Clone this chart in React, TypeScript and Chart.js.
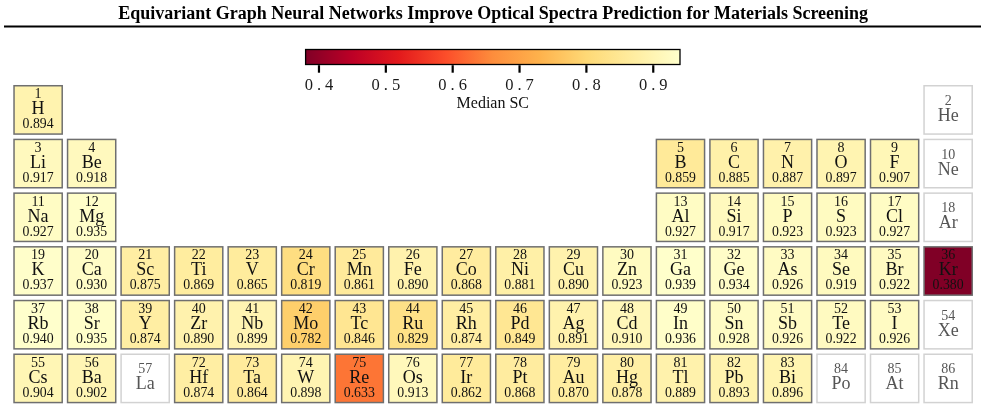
import { useEffect, useRef } from 'react';
import { Chart, registerables } from 'chart.js';

Chart.register(...registerables);

const TITLE =
  'Equivariant Graph Neural Networks Improve Optical Spectra Prediction for Materials Screening';
const COLORBAR_LABEL = 'Median SC';

// Elements shown in the table (main-group + transition metals up to Rn)
const symbols = [
  'H', 'He',
  'Li', 'Be', 'B', 'C', 'N', 'O', 'F', 'Ne',
  'Na', 'Mg', 'Al', 'Si', 'P', 'S', 'Cl', 'Ar',
  'K', 'Ca', 'Sc', 'Ti', 'V', 'Cr', 'Mn', 'Fe', 'Co', 'Ni', 'Cu', 'Zn', 'Ga', 'Ge', 'As', 'Se', 'Br', 'Kr',
  'Rb', 'Sr', 'Y', 'Zr', 'Nb', 'Mo', 'Tc', 'Ru', 'Rh', 'Pd', 'Ag', 'Cd', 'In', 'Sn', 'Sb', 'Te', 'I', 'Xe',
  'Cs', 'Ba', 'La', 'Hf', 'Ta', 'W', 'Re', 'Os', 'Ir', 'Pt', 'Au', 'Hg', 'Tl', 'Pb', 'Bi', 'Po', 'At', 'Rn',
];

const atomicNumbers = [
  1, 2,
  3, 4, 5, 6, 7, 8, 9, 10,
  11, 12, 13, 14, 15, 16, 17, 18,
  19, 20, 21, 22, 23, 24, 25, 26, 27, 28, 29, 30, 31, 32, 33, 34, 35, 36,
  37, 38, 39, 40, 41, 42, 43, 44, 45, 46, 47, 48, 49, 50, 51, 52, 53, 54,
  55, 56, 57, 72, 73, 74, 75, 76, 77, 78, 79, 80, 81, 82, 83, 84, 85, 86,
];

const groups = [
  1, 18,
  1, 2, 13, 14, 15, 16, 17, 18,
  1, 2, 13, 14, 15, 16, 17, 18,
  1, 2, 3, 4, 5, 6, 7, 8, 9, 10, 11, 12, 13, 14, 15, 16, 17, 18,
  1, 2, 3, 4, 5, 6, 7, 8, 9, 10, 11, 12, 13, 14, 15, 16, 17, 18,
  1, 2, 3, 4, 5, 6, 7, 8, 9, 10, 11, 12, 13, 14, 15, 16, 17, 18,
];

const periods = [
  1, 1,
  2, 2, 2, 2, 2, 2, 2, 2,
  3, 3, 3, 3, 3, 3, 3, 3,
  4, 4, 4, 4, 4, 4, 4, 4, 4, 4, 4, 4, 4, 4, 4, 4, 4, 4,
  5, 5, 5, 5, 5, 5, 5, 5, 5, 5, 5, 5, 5, 5, 5, 5, 5, 5,
  6, 6, 6, 6, 6, 6, 6, 6, 6, 6, 6, 6, 6, 6, 6, 6, 6, 6,
];

// Median spectral similarity per element (null = no data)
const medianSC: (number | null)[] = [
  0.894, null,
  0.917, 0.918, 0.859, 0.885, 0.887, 0.897, 0.907, null,
  0.927, 0.935, 0.927, 0.917, 0.923, 0.923, 0.927, null,
  0.937, 0.930, 0.875, 0.869, 0.865, 0.819, 0.861, 0.890, 0.868, 0.881, 0.890, 0.923, 0.939, 0.934, 0.926, 0.919, 0.922, 0.380,
  0.940, 0.935, 0.874, 0.890, 0.899, 0.782, 0.846, 0.829, 0.874, 0.849, 0.891, 0.910, 0.936, 0.928, 0.926, 0.922, 0.926, null,
  0.904, 0.902, null, 0.874, 0.864, 0.898, 0.633, 0.913, 0.862, 0.868, 0.870, 0.878, 0.889, 0.893, 0.896, null, null, null,
];

const colorbarTicks = [0.4, 0.5, 0.6, 0.7, 0.8, 0.9];
const colorMin = 0.38;
const colorMax = 0.94;

// ColorBrewer YlOrRd, light -> dark
const YLORRD = ['#ffffcc', '#ffeda0', '#fed976', '#feb24c', '#fd8d3c', '#fc4e2a', '#e31a1c', '#bd0026', '#800026'];

const SERIF = "'Liberation Serif', 'Times New Roman', serif";

function hexToRgb(h: string): number[] {
  return [1, 3, 5].map((k) => parseInt(h.slice(k, k + 2), 16));
}

// Reversed YlOrRd: low values dark red, high values pale yellow
function colorFor(v: number): string {
  let t = (v - colorMin) / (colorMax - colorMin);
  t = Math.max(0, Math.min(1, t));
  const s = (1 - t) * (YLORRD.length - 1);
  const i = Math.min(YLORRD.length - 2, Math.floor(s));
  const f = s - i;
  const a = hexToRgb(YLORRD[i]);
  const b = hexToRgb(YLORRD[i + 1]);
  const c = a.map((av, k) => Math.round(av + (b[k] - av) * f));
  return `rgb(${c[0]},${c[1]},${c[2]})`;
}

const cellPlugin = {
  id: 'periodicCells',
  afterDatasetsDraw(chart: any) {
    const { ctx } = chart;
    const x = chart.scales.x;
    const y = chart.scales.y;
    const half = 0.45;
    ctx.save();
    ctx.textAlign = 'center';
    ctx.textBaseline = 'middle';
    symbols.forEach((sym, i) => {
      const g = groups[i];
      const p = periods[i];
      const left = x.getPixelForValue(g - half);
      const right = x.getPixelForValue(g + half);
      const top = y.getPixelForValue(p - half);
      const bottom = y.getPixelForValue(p + half);
      const w = right - left;
      const h = bottom - top;
      const cx = x.getPixelForValue(g);
      const cy = y.getPixelForValue(p);
      const v = medianSC[i];
      const hasData = v !== null && v !== undefined;

      ctx.fillStyle = hasData ? colorFor(v as number) : '#ffffff';
      ctx.fillRect(left, top, w, h);
      ctx.lineWidth = 1.5;
      ctx.strokeStyle = hasData ? '#6f6f6f' : '#d2d2d2';
      ctx.strokeRect(left, top, w, h);

      if (hasData) {
        ctx.fillStyle = '#111111';
        ctx.font = `14px ${SERIF}`;
        ctx.fillText(String(atomicNumbers[i]), cx, cy - 0.32 * h);
        ctx.font = `18px ${SERIF}`;
        ctx.fillText(sym, cx, cy - 0.01 * h);
        ctx.font = `13.8px ${SERIF}`;
        ctx.fillText((v as number).toFixed(3), cx, cy + 0.305 * h);
      } else {
        ctx.fillStyle = '#555555';
        ctx.font = `14px ${SERIF}`;
        ctx.fillText(String(atomicNumbers[i]), cx, cy - 0.18 * h);
        ctx.font = `18px ${SERIF}`;
        ctx.fillText(sym, cx, cy + 0.13 * h);
      }
    });
    ctx.restore();
  },
};

// Heavy rule beneath the title
const titleRulePlugin = {
  id: 'titleRule',
  afterDraw(chart: any) {
    const { ctx } = chart;
    const tb = chart.titleBlock;
    const top = tb ? tb.top : 0;
    ctx.save();
    ctx.fillStyle = '#000000';
    ctx.fillRect(4, top + 25.5, chart.width - 8, 2);
    ctx.restore();
  },
};

const colorbarPlugin = {
  id: 'colorbar',
  afterDraw(chart: any) {
    const { ctx, chartArea } = chart;
    const x = chart.scales.x;
    const x0 = x.getPixelForValue(colorMin);
    const x1 = x.getPixelForValue(colorMax);
    const top = chartArea.top;
    const bottom = chartArea.bottom;
    ctx.save();
    const grad = ctx.createLinearGradient(x0, 0, x1, 0);
    const n = YLORRD.length;
    for (let k = 0; k < n; k++) grad.addColorStop(k / (n - 1), YLORRD[n - 1 - k]);
    ctx.fillStyle = grad;
    ctx.fillRect(x0, top, x1 - x0, bottom - top);
    ctx.lineWidth = 1.3;
    ctx.strokeStyle = '#000000';
    ctx.strokeRect(x0, top, x1 - x0, bottom - top);

    // tick marks and labels
    ctx.fillStyle = '#000000';
    colorbarTicks.forEach((t) => {
      const px = x.getPixelForValue(t);
      ctx.fillRect(px - 1.1, bottom + 0.7, 2.2, 7.5);
    });
    ctx.fillStyle = '#1a1a1a';
    ctx.font = `16.5px ${SERIF}`;
    ctx.textAlign = 'center';
    ctx.textBaseline = 'alphabetic';
    (ctx as any).letterSpacing = '4px';
    colorbarTicks.forEach((t) => {
      const px = x.getPixelForValue(t);
      ctx.fillText(t.toFixed(1), px + 2, bottom + 25.5);
    });
    (ctx as any).letterSpacing = '0px';
    ctx.font = `16px ${SERIF}`;
    ctx.fillStyle = '#111111';
    ctx.fillText(COLORBAR_LABEL, (x0 + x1) / 2, bottom + 43.5);
    ctx.restore();
  },
};

export default function App() {
  const mainRef = useRef<HTMLCanvasElement | null>(null);
  const barRef = useRef<HTMLCanvasElement | null>(null);

  useEffect(() => {
    if (!mainRef.current || !barRef.current) return;

    const table = new Chart(mainRef.current, {
      type: 'scatter',
      data: {
        datasets: [
          {
            data: symbols.map((_, i) => ({ x: groups[i], y: periods[i] })),
            pointRadius: 0,
            pointHoverRadius: 0,
          },
        ],
      },
      options: {
        responsive: false,
        animation: false,
        events: [],
        layout: { padding: { left: 11.35, right: 10.1, top: 0, bottom: 3.75 } },
        scales: {
          x: { type: 'linear', min: 0.5, max: 18.5, display: false },
          y: { type: 'linear', min: 0.5, max: 6.5, reverse: true, display: false },
        },
        plugins: {
          legend: { display: false },
          tooltip: { enabled: false },
          title: {
            display: true,
            text: TITLE,
            color: '#000000',
            font: { family: SERIF, size: 18, weight: 'bold', lineHeight: 1.2 },
            padding: { top: 3.2, bottom: 58.25 },
          },
        },
      },
      plugins: [cellPlugin, titleRulePlugin],
    } as any);

    const colorbar = new Chart(barRef.current, {
      type: 'scatter',
      data: { datasets: [{ data: [], pointRadius: 0 }] },
      options: {
        responsive: false,
        animation: false,
        events: [],
        layout: { padding: { left: 305.6, right: 305, top: 49.5, bottom: 55.5 } },
        scales: {
          x: { type: 'linear', min: colorMin, max: colorMax, display: false },
          y: { type: 'linear', min: 0, max: 1, display: false },
        },
        plugins: { legend: { display: false }, tooltip: { enabled: false }, title: { display: false } },
      },
      plugins: [colorbarPlugin],
    } as any);

    return () => {
      table.destroy();
      colorbar.destroy();
    };
  }, []);

  return (
    <div style={{ position: 'absolute', left: 0, top: 0, width: 985, height: 409, background: '#ffffff' }}>
      <canvas
        ref={mainRef}
        width={985}
        height={409}
        style={{ position: 'absolute', left: 0, top: 0, display: 'block' }}
      />
      <canvas
        ref={barRef}
        width={985}
        height={120}
        style={{ position: 'absolute', left: 0, top: 0, display: 'block', pointerEvents: 'none' }}
      />
    </div>
  );
}
